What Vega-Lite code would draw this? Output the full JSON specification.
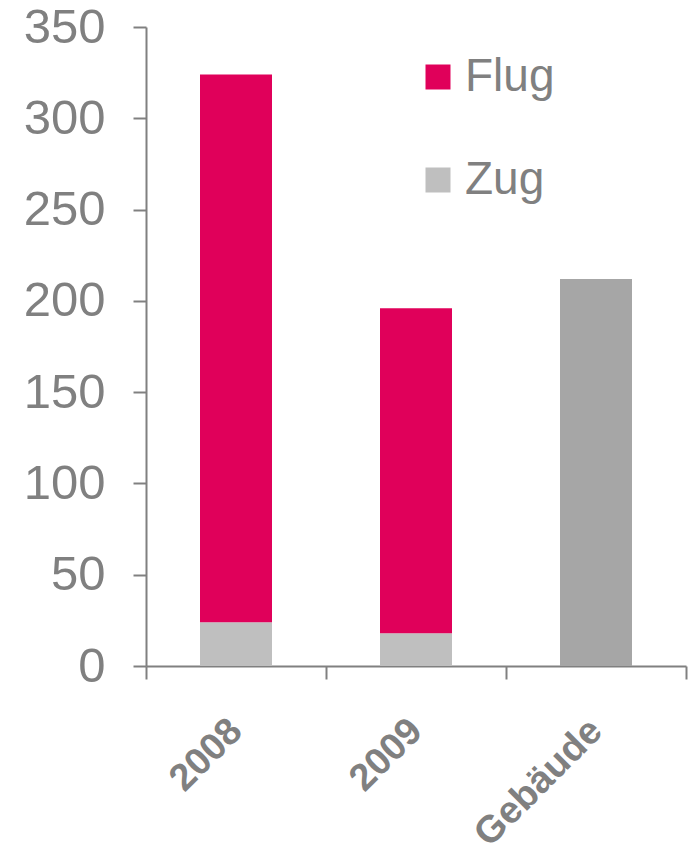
{
  "$schema": "https://vega.github.io/schema/vega-lite/v6.json",
  "autosize": "none",
  "width": 540,
  "height": 639,
  "padding": {"left": 146, "top": 27, "right": 7, "bottom": 188},
  "background": "white",
  "config": {
    "font": "Liberation Sans",
    "view": {"stroke": null}
  },
  "data": {
    "values": [
      {"kategorie": "2008", "typ": "Zug", "wert": 24},
      {"kategorie": "2008", "typ": "Flug", "wert": 300},
      {"kategorie": "2009", "typ": "Zug", "wert": 18},
      {"kategorie": "2009", "typ": "Flug", "wert": 178},
      {"kategorie": "Gebäude", "typ": "Gebäude", "wert": 212}
    ]
  },
  "mark": {"type": "bar", "width": {"band": 0.4}},
  "encoding": {
    "x": {
      "field": "kategorie",
      "type": "nominal",
      "sort": ["2008", "2009", "Gebäude"],
      "scale": {"paddingInner": 0, "paddingOuter": 0},
      "axis": {
        "title": null,
        "tickBand": "extent",
        "labelAngle": -45,
        "labelAlign": "right",
        "labelBaseline": "middle",
        "labelFontSize": 38,
        "labelFontWeight": "bold",
        "labelColor": "#808080",
        "labelPadding": 46,
        "domainColor": "#808080",
        "domainWidth": 2,
        "tickColor": "#808080",
        "tickWidth": 2,
        "tickSize": 13
      }
    },
    "y": {
      "field": "wert",
      "type": "quantitative",
      "stack": "zero",
      "scale": {"domain": [0, 350]},
      "axis": {
        "title": null,
        "values": [0, 50, 100, 150, 200, 250, 300, 350],
        "grid": false,
        "labelFontSize": 49,
        "labelColor": "#808080",
        "labelPadding": 28,
        "domainColor": "#808080",
        "domainWidth": 2,
        "tickColor": "#808080",
        "tickWidth": 2,
        "tickSize": 13
      }
    },
    "color": {
      "field": "typ",
      "type": "nominal",
      "scale": {
        "domain": ["Flug", "Zug", "Gebäude"],
        "range": ["#E0005A", "#BFBFBF", "#A6A6A6"]
      },
      "legend": {
        "title": null,
        "values": ["Flug", "Zug"],
        "orient": "none",
        "legendX": 269,
        "legendY": 27,
        "symbolType": "square",
        "symbolSize": 625,
        "symbolStrokeWidth": 0,
        "labelFontSize": 46,
        "labelColor": "#808080",
        "labelOffset": 4,
        "rowPadding": 57,
        "padding": 0
      }
    },
    "order": {"field": "typ", "sort": "descending"}
  }
}
